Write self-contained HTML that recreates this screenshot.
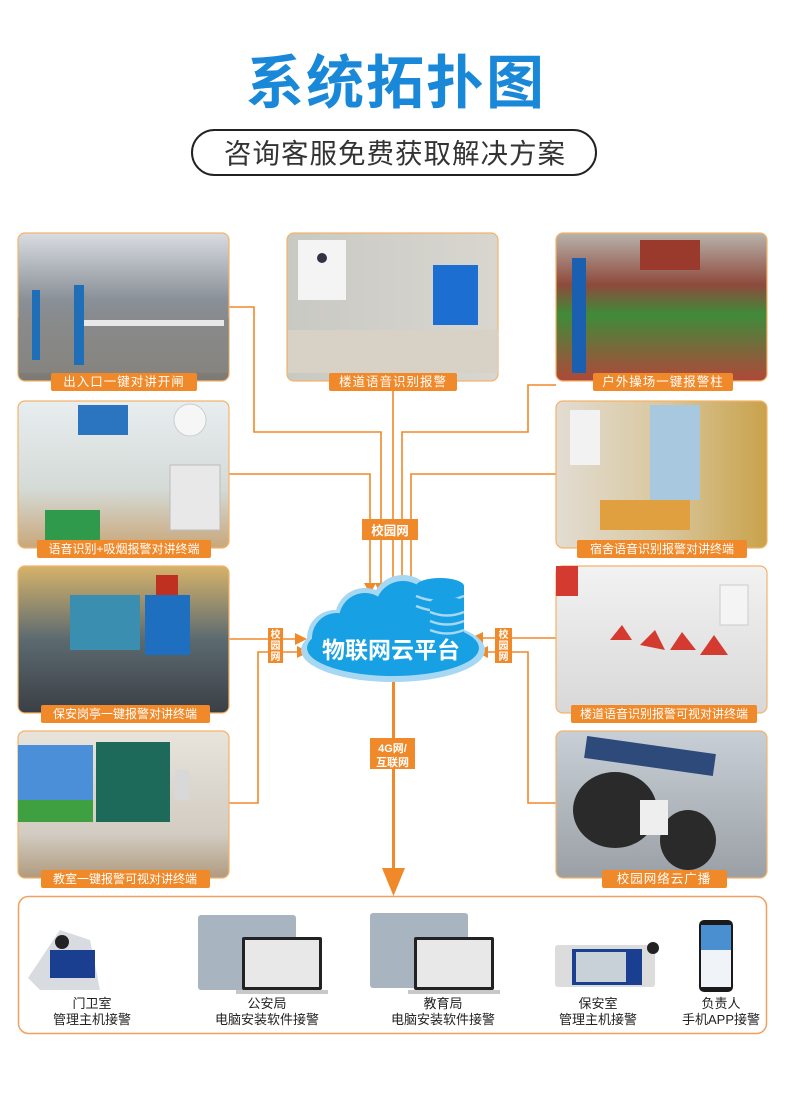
<!DOCTYPE html>
<html><head><meta charset="utf-8"><style>
html,body{margin:0;padding:0;background:#fff;}
svg{display:block;font-family:"Liberation Sans","Noto Sans CJK SC",sans-serif;}
</style></head><body>
<svg width="790" height="1113" viewBox="0 0 790 1113" xmlns="http://www.w3.org/2000/svg">
<defs>
<linearGradient id="g1" x1="0" y1="0" x2="0" y2="1"><stop offset="0" stop-color="#d9dde2"/><stop offset=".45" stop-color="#8a9097"/><stop offset="1" stop-color="#7d7a73"/></linearGradient>
<linearGradient id="g2" x1="0" y1="0" x2="1" y2="0"><stop offset="0" stop-color="#c9c9c4"/><stop offset="1" stop-color="#d8d6cf"/></linearGradient>
<linearGradient id="g3" x1="0" y1="0" x2="0" y2="1"><stop offset="0" stop-color="#b8b3ac"/><stop offset=".35" stop-color="#8e4a3c"/><stop offset=".55" stop-color="#3f8b3a"/><stop offset="1" stop-color="#b0483a"/></linearGradient>
<linearGradient id="g4" x1="0" y1="0" x2="0" y2="1"><stop offset="0" stop-color="#e8eef0"/><stop offset=".6" stop-color="#d4dad6"/><stop offset="1" stop-color="#c9a77a"/></linearGradient>
<linearGradient id="g5" x1="0" y1="0" x2="1" y2="0"><stop offset="0" stop-color="#e2dcd2"/><stop offset=".5" stop-color="#d9c8a0"/><stop offset="1" stop-color="#c9a24a"/></linearGradient>
<linearGradient id="g6" x1="0" y1="0" x2="0" y2="1"><stop offset="0" stop-color="#d6b36a"/><stop offset=".5" stop-color="#5c6a70"/><stop offset="1" stop-color="#3a3f45"/></linearGradient>
<linearGradient id="g7" x1="0" y1="0" x2="0" y2="1"><stop offset="0" stop-color="#f2f2f2"/><stop offset="1" stop-color="#d8d8d8"/></linearGradient>
<linearGradient id="g8" x1="0" y1="0" x2="0" y2="1"><stop offset="0" stop-color="#e8e4dc"/><stop offset=".7" stop-color="#d2ccc2"/><stop offset="1" stop-color="#b09a7e"/></linearGradient>
<linearGradient id="g9" x1="0" y1="0" x2="0" y2="1"><stop offset="0" stop-color="#c8cfd6"/><stop offset="1" stop-color="#9aa0a5"/></linearGradient>
</defs>

<text x="396" y="103" text-anchor="middle" font-size="58" font-weight="bold" fill="#1a88d8" letter-spacing="2">系统拓扑图</text>
<rect x="192" y="130" width="404" height="45" rx="22.5" fill="#fff" stroke="#222" stroke-width="2"/>
<text x="395" y="163" text-anchor="middle" font-size="27.5" fill="#333" letter-spacing="1">咨询客服免费获取解决方案</text>

<g fill="none" stroke="#f0892a" stroke-width="1.6">
<polyline points="229,307 254,307 254,432 381,432 381,584"/>
<polyline points="393,390 393,584"/>
<polyline points="556,385 528,385 528,432 402,432 402,584"/>
<polyline points="229,474 370,474 370,584"/>
<polyline points="556,474 411,474 411,584"/>
<polyline points="229,639 296,639"/>
<polyline points="229,803 258,803 258,652 298,652"/>
<polyline points="556,638 482,638"/>
<polyline points="556,803 528,803 528,652 487,652"/>
</g>
<g fill="#f0892a">
<polygon points="364,583 376,583 370,594"/>
<polygon points="375,583 387,583 381,596"/>
<polygon points="387,583 399,583 393,596"/>
<polygon points="396,583 408,583 402,595"/>
<polygon points="405,583 417,583 411,595"/>
<polygon points="295,633 307,639 295,645"/>
<polygon points="297,646 309,652 297,658"/>
<polygon points="483,632 471,638 483,644"/>
<polygon points="488,646 476,652 488,658"/>
</g>
<rect x="392" y="676" width="3" height="196" fill="#f0892a"/>
<polygon points="382,868 405,868 393.5,896" fill="#f0892a"/>

<rect x="362" y="519" width="56" height="21" fill="#f0892a"/>
<text x="390" y="535" text-anchor="middle" font-size="12.5" font-weight="bold" fill="#fff">校园网</text>
<rect x="268" y="628" width="15" height="35" fill="#f0892a"/>
<text x="275.5" y="638" text-anchor="middle" font-size="10" font-weight="bold" fill="#fff">校</text>
<text x="275.5" y="649" text-anchor="middle" font-size="10" font-weight="bold" fill="#fff">园</text>
<text x="275.5" y="660" text-anchor="middle" font-size="10" font-weight="bold" fill="#fff">网</text>
<rect x="495" y="628" width="17" height="35" fill="#f0892a"/>
<text x="503.5" y="638" text-anchor="middle" font-size="10" font-weight="bold" fill="#fff">校</text>
<text x="503.5" y="649" text-anchor="middle" font-size="10" font-weight="bold" fill="#fff">园</text>
<text x="503.5" y="660" text-anchor="middle" font-size="10" font-weight="bold" fill="#fff">网</text>
<rect x="370" y="738" width="45" height="31" fill="#f0892a"/>
<text x="392.5" y="752" text-anchor="middle" font-size="11" font-weight="bold" fill="#fff">4G网/</text>
<text x="392.5" y="766" text-anchor="middle" font-size="11" font-weight="bold" fill="#fff">互联网</text>

<g fill="#a6d8f3">
<ellipse cx="393" cy="650" rx="92" ry="32"/>
<circle cx="365" cy="618" r="30"/>
<circle cx="403" cy="607" r="32"/>
<circle cx="335" cy="638" r="28"/>
</g>
<g fill="#18a0e4">
<ellipse cx="393" cy="648" rx="86" ry="28"/>
<circle cx="365" cy="619" r="26"/>
<circle cx="403" cy="609" r="28"/>
<circle cx="337" cy="638" r="25"/>
</g>
<g>
<ellipse cx="440" cy="586" rx="24" ry="8" fill="#18a0e4"/>
<rect x="416" y="586" width="48" height="30" fill="#18a0e4"/>
<ellipse cx="440" cy="616" rx="24" ry="8" fill="#18a0e4"/>
<path d="M416,596 q24,10 48,0 M416,606 q24,10 48,0" stroke="#a6d8f3" stroke-width="2.5" fill="none"/>
<ellipse cx="447" cy="603" rx="17" ry="6" fill="#18a0e4"/>
<rect x="430" y="603" width="34" height="30" fill="#18a0e4"/>
<path d="M430,612 q17,7 34,0 M430,621 q17,7 34,0 M430,630 q17,7 34,0" stroke="#a6d8f3" stroke-width="2.5" fill="none"/>
</g>
<text x="391" y="658" text-anchor="middle" font-size="23" font-weight="bold" fill="#fff">物联网云平台</text>

<g stroke="#f3b36a" stroke-width="1.2">
<rect x="18" y="233" width="211" height="148" rx="7" fill="url(#g1)"/>
<rect x="287" y="233" width="211" height="148" rx="7" fill="url(#g2)"/>
<rect x="556" y="233" width="211" height="148" rx="7" fill="url(#g3)"/>
<rect x="18" y="401" width="211" height="147" rx="7" fill="url(#g4)"/>
<rect x="556" y="401" width="211" height="147" rx="7" fill="url(#g5)"/>
<rect x="18" y="566" width="211" height="147" rx="7" fill="url(#g6)"/>
<rect x="556" y="566" width="211" height="147" rx="7" fill="url(#g7)"/>
<rect x="18" y="731" width="211" height="147" rx="7" fill="url(#g8)"/>
<rect x="556" y="731" width="211" height="147" rx="7" fill="url(#g9)"/>
</g>
<rect x="18" y="318" width="211" height="55" fill="#8b8b88" opacity=".5"/>
<rect x="32" y="290" width="8" height="70" fill="#1f6fb8"/>
<rect x="74" y="285" width="10" height="80" fill="#1f6fb8"/>
<rect x="84" y="320" width="140" height="6" fill="#e8e8e8"/>
<rect x="298" y="240" width="48" height="60" fill="#f4f4f4"/>
<circle cx="322" cy="258" r="5" fill="#334"/>
<rect x="433" y="265" width="45" height="60" fill="#1c6fd0"/>
<rect x="288" y="330" width="210" height="43" fill="#d8d2c6"/>
<rect x="572" y="258" width="14" height="115" fill="#1a5fb0"/>
<rect x="640" y="240" width="60" height="30" fill="#9a3a2c"/>
<rect x="170" y="465" width="50" height="65" fill="#e8e8e8" stroke="#bbb"/>
<rect x="78" y="405" width="50" height="30" fill="#2a74c0"/>
<circle cx="190" cy="420" r="16" fill="#f6f6f6" stroke="#ccc"/>
<rect x="45" y="510" width="55" height="30" fill="#2f9a4c"/>
<rect x="570" y="410" width="30" height="55" fill="#f2f2f2"/>
<rect x="650" y="405" width="50" height="95" fill="#a8c8e0"/>
<rect x="600" y="500" width="90" height="30" fill="#e0a040"/>
<rect x="70" y="595" width="70" height="55" fill="#3a8fb0"/>
<rect x="145" y="595" width="45" height="60" fill="#1f6fc0"/>
<rect x="156" y="575" width="22" height="20" fill="#c03020"/>
<rect x="556" y="566" width="22" height="30" fill="#d43a30"/>
<g fill="#d43a30"><path d="M640,645 l15,-15 l10,20z"/><path d="M670,650 l12,-18 l14,18z"/><path d="M700,655 l14,-20 l14,20z"/><path d="M610,640 l12,-15 l10,15z"/></g>
<rect x="720" y="585" width="28" height="40" fill="#f4f4f4" stroke="#ccc"/>
<rect x="18" y="745" width="75" height="75" fill="#4a8fd8"/>
<rect x="18" y="800" width="75" height="22" fill="#3ea040"/>
<rect x="96" y="742" width="74" height="80" fill="#1d6a5a"/>
<rect x="175" y="770" width="14" height="30" fill="#d8d8d8"/>
<rect x="585" y="745" width="130" height="22" fill="#2d4a7a" transform="rotate(8 650 756)"/>
<ellipse cx="615" cy="810" rx="42" ry="38" fill="#2a2a2a"/>
<ellipse cx="688" cy="840" rx="28" ry="30" fill="#2a2a2a"/>
<rect x="640" y="800" width="28" height="35" fill="#eee"/>

<g fill="#f0892a">
<rect x="51" y="373" width="146" height="18" rx="2"/>
<rect x="329" y="373" width="128" height="18" rx="2"/>
<rect x="593" y="373" width="140" height="18" rx="2"/>
<rect x="37" y="540" width="174" height="18" rx="2"/>
<rect x="577" y="540" width="170" height="18" rx="2"/>
<rect x="41" y="705" width="169" height="18" rx="2"/>
<rect x="571" y="705" width="186" height="18" rx="2"/>
<rect x="41" y="870" width="169" height="18" rx="2"/>
<rect x="602" y="870" width="125" height="18" rx="2"/>
</g>
<g fill="#fff" font-size="12.5" text-anchor="middle">
<text x="124" y="386" letter-spacing="1">出入口一键对讲开闸</text>
<text x="393" y="386" letter-spacing="1">楼道语音识别报警</text>
<text x="663" y="386" letter-spacing="1">户外操场一键报警柱</text>
<text x="124" y="553" font-size="12">语音识别+吸烟报警对讲终端</text>
<text x="662" y="553" font-size="12">宿舍语音识别报警对讲终端</text>
<text x="125" y="718" font-size="12">保安岗亭一键报警对讲终端</text>
<text x="664" y="718" font-size="12">楼道语音识别报警可视对讲终端</text>
<text x="125" y="883" font-size="12">教室一键报警可视对讲终端</text>
<text x="664" y="883" letter-spacing="1">校园网络云广播</text>
</g>

<rect x="18.5" y="896.5" width="748" height="137" rx="10" fill="#fff" stroke="#f0a060" stroke-width="1.5"/>
<path d="M28,978 L60,930 L90,940 L100,990 L40,990z" fill="#d8dce0"/>
<rect x="50" y="950" width="45" height="28" fill="#1a3f90"/>
<circle cx="62" cy="942" r="7" fill="#222"/>
<rect x="198" y="915" width="98" height="75" rx="3" fill="#a8b4c0"/>
<rect x="242" y="937" width="80" height="53" rx="2" fill="#222"/>
<rect x="245" y="940" width="74" height="47" fill="#e8e8e8"/>
<rect x="236" y="990" width="92" height="4" fill="#c8c8c8"/>
<rect x="370" y="913" width="98" height="75" rx="3" fill="#a8b4c0"/>
<rect x="414" y="937" width="80" height="53" rx="2" fill="#222"/>
<rect x="417" y="940" width="74" height="47" fill="#e8e8e8"/>
<rect x="408" y="990" width="92" height="4" fill="#c8c8c8"/>
<rect x="555" y="945" width="100" height="42" rx="3" fill="#dcdcdc"/>
<rect x="572" y="949" width="70" height="36" fill="#1a3f90"/>
<rect x="576" y="952" width="50" height="30" fill="#c8d0d8"/>
<circle cx="653" cy="948" r="6" fill="#222"/>
<rect x="699" y="920" width="34" height="72" rx="5" fill="#1a1a1a"/>
<rect x="701" y="925" width="30" height="62" fill="#f0f4f8"/>
<rect x="701" y="925" width="30" height="25" fill="#4a90d0"/>
<g fill="#222" font-size="13" text-anchor="middle">
<text x="92" y="1008">门卫室</text><text x="92" y="1024">管理主机接警</text>
<text x="267" y="1008">公安局</text><text x="267" y="1024">电脑安装软件接警</text>
<text x="443" y="1008">教育局</text><text x="443" y="1024">电脑安装软件接警</text>
<text x="598" y="1008">保安室</text><text x="598" y="1024">管理主机接警</text>
<text x="721" y="1008">负责人</text><text x="721" y="1024">手机APP接警</text>
</g>
</svg>
</body></html>
